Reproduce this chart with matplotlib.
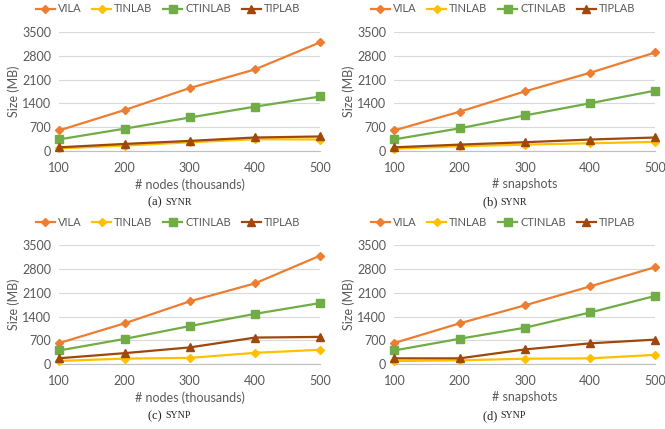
import numpy as np
import matplotlib
matplotlib.use("Agg")
import matplotlib.pyplot as plt

# x positions shared by all panels
x_vals = [100, 200, 300, 400, 500]
series_names = ["VILA", "TINLAB", "CTINLAB", "TIPLAB"]

# (a) SYNR, varying nodes
a_vila = [600, 1200, 1850, 2400, 3200]
a_tinlab = [70, 150, 250, 340, 330]
a_ctinlab = [335, 650, 980, 1300, 1600]
a_tiplab = [100, 200, 290, 390, 420]

# (b) SYNR, varying snapshots
b_vila = [600, 1150, 1750, 2300, 2900]
b_tinlab = [60, 130, 180, 220, 260]
b_ctinlab = [335, 660, 1040, 1400, 1775]
b_tiplab = [100, 180, 250, 330, 390]

# (c) SYNP, varying nodes
c_vila = [620, 1200, 1850, 2380, 3200]
c_tinlab = [90, 160, 180, 330, 420]
c_ctinlab = [400, 740, 1120, 1480, 1800]
c_tiplab = [170, 320, 490, 780, 800]

# (d) SYNP, varying snapshots
d_vila = [620, 1200, 1730, 2290, 2860]
d_tinlab = [88, 108, 157, 167, 270]
d_ctinlab = [400, 745, 1070, 1520, 2010]
d_tiplab = [167, 167, 430, 610, 720]

y_ticks = [0, 700, 1400, 2100, 2800, 3500]

colors = ["#ED7D31", "#FFC000", "#70AD47", "#9E480E"]
markers = ["D", "D", "s", "^"]
msizes = [4, 4, 5.5, 5.5]

plt.rcParams["font.family"] = ["Lato", "DejaVu Sans"]
TXT = "#595959"

fig = plt.figure(figsize=(6.65, 4.29), dpi=100)

panels = [
    ((a_vila, a_tinlab, a_ctinlab, a_tiplab), "# nodes (thousands)", "(a)", "SYNR", 0.0892, 0.6487),
    ((b_vila, b_tinlab, b_ctinlab, b_tiplab), "# snapshots", "(b)", "SYNR", 0.593, 0.6487),
    ((c_vila, c_tinlab, c_ctinlab, c_tiplab), "# nodes (thousands)", "(c)", "SYNP", 0.0892, 0.1515),
    ((d_vila, d_tinlab, d_ctinlab, d_tiplab), "# snapshots", "(d)", "SYNP", 0.593, 0.1515),
]

for data, xlabel, tag, name, left, bottom in panels:
    ax = fig.add_axes([left, bottom, 0.3925, 0.2765])
    handles = []
    for vals, lab, col, mk, ms in zip(data, series_names, colors, markers, msizes):
        h, = ax.plot(x_vals, vals, color=col, marker=mk, markersize=ms,
                     linewidth=1.6, label=lab, clip_on=False, zorder=3)
        handles.append(h)
    ax.set_xlim(100, 500)
    ax.set_ylim(0, 3500)
    ax.set_xticks(x_vals)
    ax.set_yticks(y_ticks)
    ax.grid(axis="y", color="#d9d9d9", linewidth=0.8)
    ax.set_axisbelow(True)
    for s in ["top", "right", "left"]:
        ax.spines[s].set_visible(False)
    ax.spines["bottom"].set_color("#bfbfbf")
    ax.spines["bottom"].set_linewidth(0.8)
    ax.tick_params(length=0, colors=TXT, labelsize=9)
    ax.tick_params(axis="x", pad=8)
    ax.tick_params(axis="y", pad=6)
    ax.set_ylabel("Size (MB)", color=TXT, fontsize=9, labelpad=1)
    ax.set_xlabel(xlabel, color=TXT, fontsize=9, labelpad=3)

    # legend centred over the panel
    cx = left + 0.3925 / 2 - 0.033
    ax.legend(handles=handles, loc="center", ncol=4, frameon=False,
              bbox_to_anchor=(cx, bottom + 0.2765 + 0.054),
              bbox_transform=fig.transFigure, fontsize=8,
              handlelength=1.7, handletextpad=0.25, columnspacing=1.0,
              labelcolor=TXT)

    # caption: "(a) SYNR" with small caps
    fig.text(cx - 0.004, bottom - 0.121, tag + " ", ha="right", va="center",
             fontsize=9, family="Liberation Serif", color="#222222")
    fig.text(cx - 0.004, bottom - 0.121, name, ha="left", va="center",
             fontsize=7.2, family="Liberation Serif", color="#222222")

fig.savefig("out.png", dpi=100)
